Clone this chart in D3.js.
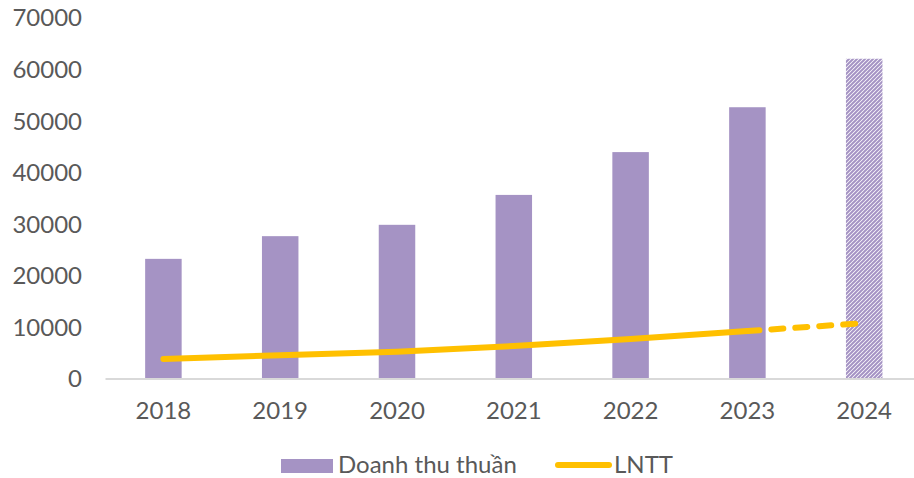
<!DOCTYPE html>
<html>
<head>
<meta charset="utf-8">
<script src="https://cdn.jsdelivr.net/npm/d3@7"></script>
<style>
  body { margin: 0; background: #fff; }
  svg text { font-family: Lato, "Open Sans", sans-serif; fill: #595959; }
</style>
</head>
<body>
<div id="chart"></div>
<script>
// du lieu
const years = ["2018", "2019", "2020", "2021", "2022", "2023", "2024"];
const doanhThu = [23200, 27600, 29800, 35600, 43900, 52600, 62000];
const lntt = [3800, 4500, 5200, 6300, 7650, 9200, 10750];
const yTicks = [0, 10000, 20000, 30000, 40000, 50000, 60000, 70000];
const forecastYear = "2024";

const W = 914, H = 478;
const plot = { left: 105, right: 922.6, top: 17.5, bottom: 378.5 };

const svg = d3.select("#chart").append("svg")
    .attr("width", W)
    .attr("height", H);

// hoa van soc cho nam du bao
svg.append("defs").append("pattern")
    .attr("id", "hatch")
    .attr("patternUnits", "userSpaceOnUse")
    .attr("width", 4).attr("height", 4)
  .append("path")
    .attr("d", "M-1,1 l2,-2 M0,4 l4,-4 M3,5 l2,-2")
    .attr("stroke", "#A593C4")
    .attr("stroke-width", 2);

const x = d3.scaleBand()
    .domain(years)
    .range([plot.left, plot.right])
    .paddingInner(0.6875)
    .paddingOuter(0.34375);

const y = d3.scaleLinear()
    .domain([0, 70000])
    .range([plot.bottom, plot.top]);

// truc Y (chi nhan)
const yAxis = svg.append("g")
    .attr("transform", `translate(${plot.left},0)`)
    .call(d3.axisLeft(y).tickValues(yTicks).tickSize(0).tickPadding(23).tickFormat(d3.format("d")));
yAxis.select(".domain").remove();
yAxis.selectAll("text").style("font-size", "24px").attr("dy", "0.35em");

// cot doanh thu
svg.selectAll("rect.bar")
    .data(years.map((yr, i) => ({ yr, v: doanhThu[i] })))
    .enter()
    .append("rect")
    .attr("class", "bar")
    .attr("x", d => x(d.yr))
    .attr("y", d => y(d.v))
    .attr("width", x.bandwidth())
    .attr("height", d => plot.bottom - y(d.v))
    .attr("fill", d => d.yr === forecastYear ? "url(#hatch)" : "#A593C4");

// truc X
const xAxis = svg.append("g")
    .attr("transform", `translate(0,${plot.bottom})`)
    .call(d3.axisBottom(x).tickSize(0).tickPadding(23));
xAxis.select(".domain").attr("stroke", "#D9D9D9").attr("stroke-width", 2);
xAxis.selectAll("text").style("font-size", "24px");

// duong LNTT
const pts = years.map((yr, i) => ({ yr, v: lntt[i] }));
const fi = years.indexOf(forecastYear);
const line = d3.line()
    .x(d => x(d.yr) + x.bandwidth() / 2)
    .y(d => y(d.v));

svg.append("path")
    .datum(pts.slice(0, fi))
    .attr("d", line)
    .attr("fill", "none")
    .attr("stroke", "#FFC000")
    .attr("stroke-width", 6)
    .attr("stroke-linecap", "round");

svg.append("path")
    .datum(pts.slice(fi - 1))
    .attr("d", line)
    .attr("fill", "none")
    .attr("stroke", "#FFC000")
    .attr("stroke-width", 6)
    .attr("stroke-linecap", "round")
    .attr("stroke-dasharray", "12,12");

// chu giai
const legend = svg.append("g");
legend.append("rect")
    .attr("x", 281).attr("y", 459)
    .attr("width", 52).attr("height", 14)
    .attr("fill", "#A593C4");
legend.append("text")
    .attr("x", 338).attr("y", 473)
    .style("font-size", "24px")
    .text("Doanh thu thuần");
legend.append("line")
    .attr("x1", 558).attr("x2", 609)
    .attr("y1", 465).attr("y2", 465)
    .attr("stroke", "#FFC000")
    .attr("stroke-width", 6)
    .attr("stroke-linecap", "round");
legend.append("text")
    .attr("x", 614).attr("y", 473)
    .style("font-size", "24px")
    .text("LNTT");
</script>
</body>
</html>
